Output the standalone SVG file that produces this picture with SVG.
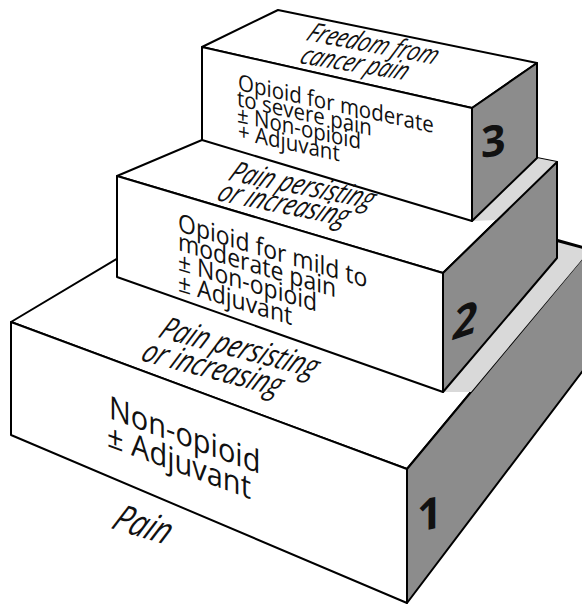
<svg xmlns="http://www.w3.org/2000/svg" width="582" height="606" viewBox="0 0 582 606">
<style>
.face{fill:#ffffff;stroke:#000;stroke-width:2;stroke-linejoin:round}
.side{fill:#8c8c8c;stroke:#000;stroke-width:2;stroke-linejoin:round}
.shade{fill:#d9d9d9;stroke:none}
.edge{fill:none;stroke:#000;stroke-width:2}
.t{font-family:"Open Sans","Noto Sans","Liberation Sans",sans-serif;fill:#111}
.it{font-family:"Open Sans","Noto Sans","Liberation Sans",sans-serif;font-style:italic;fill:#111}
.num{font-family:"Open Sans","Noto Sans","Liberation Sans",sans-serif;font-weight:bold;fill:#111}
</style>
<rect x="0" y="0" width="582" height="606" fill="#ffffff"/>

<g id="step1">
  <polygon class="face" points="11,322 279,162 590,249 407,469"/>
  <polygon class="face" points="11,322 407,469 407,603 11,435"/>
  <polygon class="side" points="407,469 600,237 600,348 407,603"/>
  <polygon class="shade" points="443,392 557,258 557,241 590,250 471,392"/>
  <polyline class="edge" points="557,241 590,250"/>
  <text class="t" font-size="29" transform="matrix(1,0.37,0,1.1,109,418)">Non-opioid</text>
  <text class="t" font-size="29" transform="matrix(1,0.37,0,1.1,107,446)">± Adjuvant</text>
  <text class="num" font-size="44" transform="matrix(1,-0.2,0,1,417,532)">1</text>
</g>

<g id="step2">
  <polygon class="face" points="117,176 280,107 557,162 443,273"/>
  <polygon class="shade" points="472,221 537,158 557,162 498,220"/>
  <polygon class="face" points="117,176 443,273 443,392 117,277"/>
  <polygon class="side" points="443,273 557,162 557,258 443,392"/>
  <text class="t" font-size="23" transform="matrix(1,0.3,0,1.1,178,231)">Opioid for mild to</text>
  <text class="t" font-size="23" transform="matrix(1,0.3,0,1.1,178,250)">moderate pain</text>
  <text class="t" font-size="23" transform="matrix(1,0.3,0,1.1,178,270)">± Non-opioid</text>
  <text class="t" font-size="23" transform="matrix(1,0.3,0,1.1,178,291)">± Adjuvant</text>
  <text class="num" font-size="44" font-style="italic" transform="matrix(1,-0.35,0,1,453,340)">2</text>
</g>

<g id="step3">
  <polygon class="face" points="202,47 278,10 537,63 472,108"/>
  <polygon class="face" points="202,47 472,108 472,221 202,140"/>
  <polygon class="side" points="472,108 537,63 537,158 472,221"/>
  <text class="t" font-size="20.5" transform="matrix(1,0.22,0,1.1,238,90)">Opioid for moderate</text>
  <text class="t" font-size="20.5" transform="matrix(1,0.22,0,1.1,237,106)">to severe pain</text>
  <text class="t" font-size="20.5" transform="matrix(1,0.22,0,1.1,237,122)">± Non-opioid</text>
  <text class="t" font-size="20.5" transform="matrix(1,0.22,0,1.1,238,139)">+ Adjuvant</text>
  <text class="num" font-size="43" transform="matrix(1,-0.15,0,1,481,158)">3</text>
</g>

<g id="labels">
  <text class="it" font-size="20.5" transform="matrix(1,0.19,-0.65,1.2,305,40)">Freedom from</text>
  <text class="it" font-size="20.5" transform="matrix(1,0.16,-0.65,1.2,298,63)">cancer pain</text>
  <text class="it" font-size="22" transform="matrix(1,0.2,-0.65,1.2,227,180)">Pain persisting</text>
  <text class="it" font-size="22.5" transform="matrix(1,0.2,-0.65,1.2,215,200)">or increasing</text>
  <text class="it" font-size="24" transform="matrix(1,0.26,-0.65,1.2,157,337)">Pain persisting</text>
  <text class="it" font-size="24" transform="matrix(1,0.26,-0.65,1.2,139,360)">or increasing</text>
  <text class="it" font-size="28" transform="matrix(1,0.3,-0.65,1.2,110,528)">Pain</text>
</g>

<g id="connectors"></g>
</svg>
